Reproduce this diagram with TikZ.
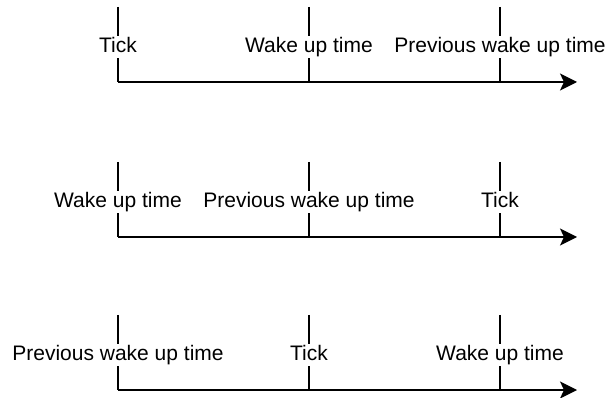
\documentclass[tikz,border=0pt]{standalone}
\usepackage{fontspec}
\setmainfont{Liberation Sans}
\usetikzlibrary{arrows.meta}
\begin{document}
\begin{tikzpicture}[x=1pt,y=-1pt,
  axisline/.style={line width=1.4pt,-{Stealth[length=17pt,width=17pt,inset=4pt]}},
  marker/.style={line width=1.4pt},
  lbl/.style={fill=white,inner sep=1.5pt,font=\fontsize{21}{25}\selectfont,
    text height=15pt,text depth=4.5pt}]
\useasboundingbox (0,0) rectangle (611,398);
% one timeline per row: axis y, labels at the three markers
\foreach \row/\ya/\la/\lb/\lc in {
  1/82/Tick/Wake up time/Previous wake up time,
  2/237/Wake up time/Previous wake up time/Tick,
  3/390/Previous wake up time/Tick/Wake up time} {
  \coordinate (s\row) at (118,\ya);
  \coordinate (e\row) at (577,\ya);
  \draw[axisline] (s\row) -- (e\row);
  \foreach \i/\xx/\txt in {a/118/\la, b/309/\lb, c/500/\lc} {
    \coordinate (t\row\i) at (\xx,\ya-75);
    \coordinate (b\row\i) at (\xx,\ya);
    \draw[marker] (t\row\i) -- (b\row\i);
    \node[lbl] (l\row\i) at (\xx,\ya-35) {\txt};
  }
}
\end{tikzpicture}
\end{document}
